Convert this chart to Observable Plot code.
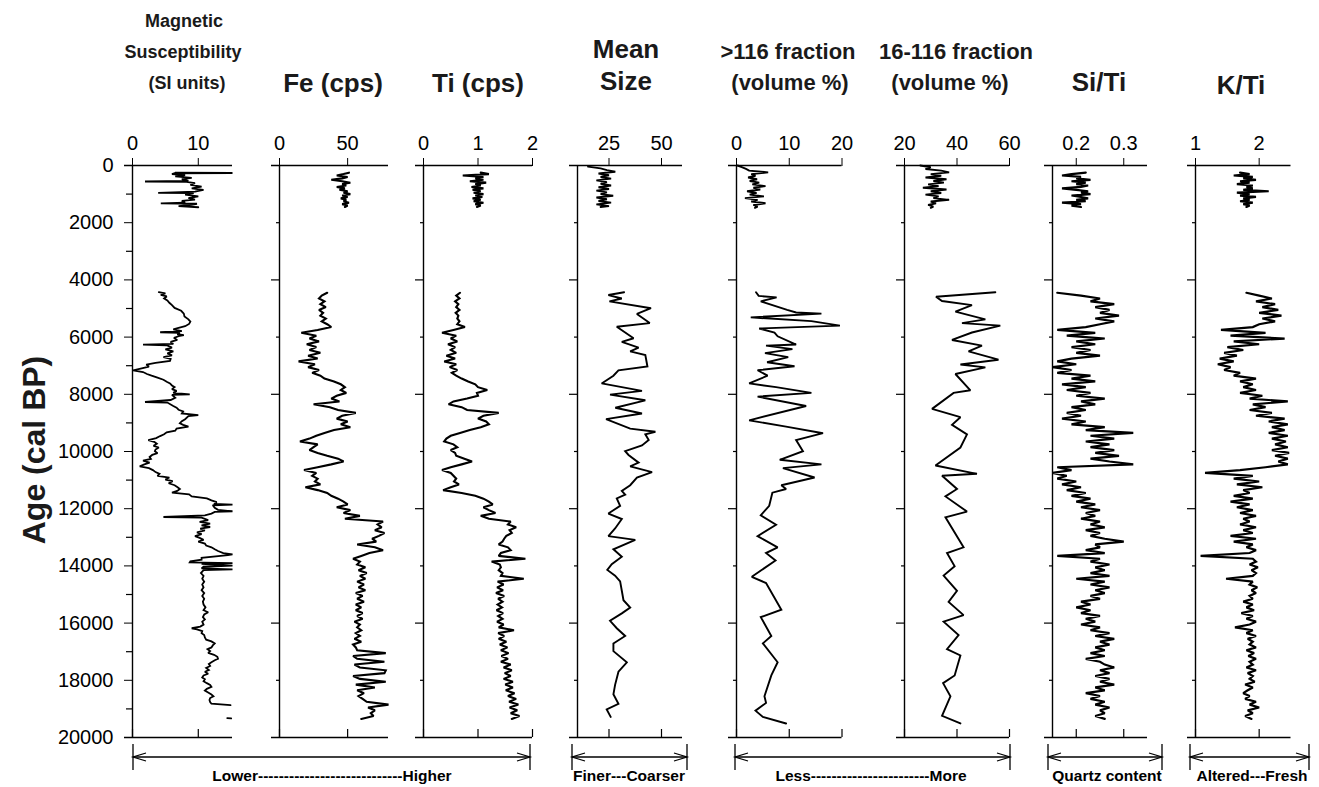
<!DOCTYPE html>
<html><head><meta charset="utf-8">
<script src="https://cdn.jsdelivr.net/npm/d3@7"></script>
<script src="https://cdn.jsdelivr.net/npm/@observablehq/plot@0.6"></script>
<style>
body{margin:0;background:#fff}
#chart{position:relative;width:1319px;height:787px;font-family:"Liberation Sans",Arial,sans-serif;color:#000;overflow:hidden}
#chart svg{position:absolute}
</style></head><body><div id="chart"></div>
<script>
// ---------------- DATA ----------------
const yLabelTicks = [0,2000,4000,6000,8000,10000,12000,14000,16000,18000,20000];
const yMinorTicksFirst = [1000,3000,5000,7000,9000,11000,13000,15000,17000,19000];
const yMajorTicks = [4000,8000,12000,16000];
const yMinorTicks = [2000,6000,10000,14000,18000];

const msTicks = [0,10];
const feTicks = [0,50];
const tiTicks = [0,1,2];
const meanTicks = [25,50];
const coarseTicks = [0,10,20];
const fineTicks = [20,40,60];
const sitiTicks = [0.2,0.3];
const ktiTicks = [1,2];

// Magnetic susceptibility [age, value]
const msTop = [[250,6.5],[262,15.2],[272,6.3],[300,6.0],[340,8.0],[380,6.5],[430,9.0],[480,7.5],[540,8.5],[560,1.9],[572,8.2],[620,9.5],[680,8.8],[740,10.5],[800,9.0],[850,10.8],[910,9.5],[955,3.9],[968,9.3],[1020,8.0],[1080,10.0],[1140,8.5],[1190,9.5],[1240,7.5],[1300,8.0],[1325,4.3],[1338,9.8],[1380,9.0],[1420,7.0],[1460,10.0]];
const msMain = [[4430,4.0],[4470,5.0],[4520,4.3],[4580,5.2],[4650,4.8],[4720,5.3],[4800,5.6],[4880,6.0],[4980,6.4],[5080,7.4],[5180,7.8],[5280,7.9],[5380,8.5],[5460,8.8],[5540,8.6],[5620,8.0],[5680,7.0],[5730,6.2],[5790,7.5],[5830,4.2],[5850,7.2],[5900,6.8],[5930,7.8],[5970,7.0],[6030,6.3],[6100,6.8],[6170,5.8],[6240,6.2],[6265,1.6],[6285,5.2],[6370,6.0],[6430,5.0],[6500,6.2],[6570,5.3],[6640,6.0],[6700,4.7],[6760,5.8],[6830,5.7],[6900,3.5],[6960,2.1],[7030,2.5],[7090,1.4],[7160,0.1],[7220,1.6],[7290,2.2],[7350,2.9],[7420,3.8],[7490,4.7],[7560,5.2],[7620,5.7],[7690,6.0],[7750,6.4],[7820,6.0],[7880,6.7],[7950,6.2],[8000,8.7],[8020,6.0],[8120,6.5],[8200,5.8],[8270,1.9],[8290,5.3],[8410,6.2],[8470,6.7],[8540,7.0],[8600,7.7],[8670,7.5],[8730,10.0],[8760,8.5],[8870,8.0],[8940,7.5],[9010,7.2],[9070,7.7],[9130,8.5],[9200,6.7],[9270,6.5],[9330,5.2],[9400,4.8],[9460,4.2],[9530,3.6],[9600,2.4],[9660,3.3],[9730,3.7],[9800,3.2],[9860,4.0],[9930,3.5],[9990,3.4],[10060,3.8],[10120,3.0],[10190,2.6],[10260,2.8],[10320,1.6],[10390,2.6],[10450,1.8],[10520,1.1],[10580,2.5],[10650,3.1],[10720,3.5],[10780,4.1],[10850,3.8],[10910,5.6],[10980,5.0],[11040,6.1],[11110,5.5],[11180,6.4],[11240,6.8],[11310,7.2],[11380,6.8],[11440,6.0],[11500,8.6],[11570,9.0],[11640,11.3],[11710,12.0],[11770,12.8],[11830,12.4],[11860,15.2],[11880,12.2],[11970,12.5],[12040,13.0],[12090,15.2],[12110,12.5],[12170,12.0],[12230,11.0],[12290,4.7],[12310,10.5],[12400,11.5],[12460,10.2],[12520,11.8],[12580,10.5],[12640,11.8],[12700,10.3],[12760,11.0],[12830,9.8],[12890,10.5],[12960,9.5],[13020,10.2],[13090,10.8],[13150,10.0],[13220,11.0],[13290,11.2],[13350,12.0],[13420,12.5],[13480,13.0],[13550,13.8],[13600,15.2],[13620,14.5],[13720,10.5],[13780,10.5],[13840,8.8],[13880,8.7],[13900,15.2],[13930,10.5],[13990,15.2],[14030,10.8],[14090,10.5],[14120,15.2],[14150,10.8],[14250,10.4],[14350,10.8],[14450,10.6],[14550,10.9],[14650,10.6],[14750,10.8],[14850,10.5],[14950,10.9],[15050,10.6],[15150,10.9],[15250,10.7],[15350,10.8],[15450,11.1],[15550,10.8],[15620,11.5],[15700,10.9],[15790,10.7],[15870,11.0],[15950,10.6],[16050,10.8],[16120,10.3],[16180,9.0],[16220,9.8],[16280,10.6],[16350,10.5],[16420,10.9],[16500,11.0],[16580,11.2],[16640,12.0],[16710,12.5],[16780,12.2],[16850,12.0],[16910,11.4],[16980,11.8],[17040,11.5],[17110,12.4],[17180,12.9],[17250,13.0],[17300,12.5],[17370,12.0],[17430,11.6],[17500,11.8],[17570,11.2],[17640,11.6],[17700,11.0],[17770,11.5],[17830,10.8],[17900,10.6],[17960,11.0],[18030,10.8],[18100,11.3],[18160,11.8],[18230,12.0],[18300,11.3],[18360,11.0],[18430,11.5],[18500,12.0],[18560,12.3],[18620,11.8],[18690,11.7],[18760,11.8],[18820,12.0],[18870,14.9]];
const msTail = [[19320,14.4],[19330,15.0]];

// XRF common sampling ages
const xrfTopAge = [250,300,350,400,450,500,550,600,650,700,750,800,850,900,950,1000,1050,1100,1150,1200,1250,1300,1350,1400,1450];
const xrfAge = [
4450,4550,4650,4750,4850,4950,5050,5150,5250,5350,
5450,5550,5650,5750,5850,5950,6050,6150,6250,6350,
6450,6550,6650,6750,6850,6950,7050,7150,7250,7350,
7450,7550,7650,7750,7850,7950,8050,8150,8250,8350,
8450,8550,8650,8750,8850,8950,9050,9150,9250,9350,
9450,9550,9650,9750,9850,9950,10050,10150,10250,10350,
10450,10550,10650,10750,10850,10950,11050,11150,11250,11350,
11450,11550,11650,11750,11850,11950,12050,12150,12250,12350,
12450,12550,12650,12750,12850,12950,13050,13150,13250,13350,
13450,13550,13650,13750,13850,13950,14050,14150,14250,14350,
14450,14550,14650,14750,14850,14950,15050,15150,15250,15350,
15450,15550,15650,15750,15850,15950,16050,16150,16250,16350,
16450,16550,16650,16750,16850,16950,17050,17150,17250,17350,
17450,17550,17650,17750,17850,17950,18050,18150,18250,18350,
18450,18550,18650,18750,18850,18950,19050,19150,19250,19350];

const feTop = [51,47,42,50,46,38,46,52,46,49,42,48,44,50,47,52,46,50,45,49,47,51,46,50,48];
const feMain = [
35,31,29,33,30,34,29,32,30,34,
31,35,38,28,16,27,22,29,20,27,
22,30,21,28,14,26,21,29,24,30,
33,40,45,48,45,49,42,38,44,25,
37,43,56,46,42,50,45,52,40,33,
27,22,15,28,25,22,28,35,43,47,
38,28,18,27,24,28,26,30,19,28,
35,38,43,47,50,42,52,47,59,48,
76,72,75,70,77,73,68,71,57,70,
76,66,60,54,59,57,63,58,64,59,
63,57,62,58,63,56,61,57,62,56,
60,56,61,57,61,55,59,57,60,56,
59,55,60,54,56,57,78,54,57,77,
55,59,78,77,54,59,78,56,70,57,
62,58,61,64,80,65,70,67,69,60];

const tiTop = [1.05,1.2,0.72,1.1,0.95,1.1,0.85,1.15,0.95,1.05,0.88,1.1,0.9,1.05,0.92,1.1,0.95,1.08,0.9,1.05,0.92,1.1,0.95,1.05,0.98];
const tiMain = [
0.67,0.6,0.66,0.58,0.64,0.6,0.66,0.59,0.64,0.62,
0.66,0.62,0.76,0.55,0.34,0.6,0.5,0.62,0.45,0.58,
0.5,0.6,0.42,0.58,0.38,0.6,0.48,0.62,0.52,0.6,
0.7,0.82,0.95,1.0,1.17,0.98,1.0,0.8,0.55,0.46,
0.7,0.8,1.38,1.1,1.0,1.15,1.2,1.05,0.85,0.67,
0.5,0.42,0.38,0.55,0.62,0.5,0.58,0.6,0.75,0.89,
0.7,0.5,0.34,0.5,0.55,0.6,0.56,0.65,0.5,0.36,
0.7,0.95,1.1,1.2,1.27,1.1,1.2,1.32,1.05,1.2,
1.6,1.55,1.7,1.58,1.62,1.52,1.48,1.45,1.38,1.55,
1.6,1.42,1.38,1.87,1.25,1.4,1.42,1.38,1.45,1.42,
1.84,1.36,1.47,1.35,1.46,1.33,1.48,1.37,1.45,1.36,
1.44,1.34,1.46,1.37,1.45,1.35,1.47,1.38,1.66,1.37,
1.48,1.38,1.52,1.4,1.54,1.42,1.56,1.43,1.55,1.42,
1.6,1.47,1.62,1.49,1.6,1.47,1.64,1.5,1.64,1.51,
1.67,1.55,1.7,1.57,1.74,1.58,1.72,1.6,1.76,1.62];

const sitiTop = [0.22,0.19,0.17,0.21,0.2,0.23,0.19,0.22,0.2,0.225,0.21,0.17,0.2,0.225,0.21,0.23,0.19,0.21,0.225,0.2,0.22,0.17,0.21,0.19,0.21];
const sitiMain = [
0.16,0.21,0.25,0.23,0.28,0.24,0.27,0.25,0.29,0.24,
0.28,0.25,0.22,0.16,0.24,0.18,0.26,0.2,0.24,0.19,
0.23,0.2,0.25,0.19,0.16,0.2,0.15,0.19,0.16,0.23,
0.19,0.24,0.17,0.22,0.18,0.23,0.2,0.26,0.21,0.24,
0.19,0.22,0.18,0.21,0.17,0.22,0.19,0.26,0.22,0.32,
0.23,0.28,0.22,0.27,0.23,0.28,0.24,0.29,0.23,0.27,
0.32,0.16,0.19,0.15,0.18,0.16,0.2,0.17,0.21,0.18,
0.22,0.19,0.23,0.2,0.24,0.21,0.25,0.22,0.24,0.21,
0.25,0.23,0.26,0.22,0.25,0.23,0.26,0.3,0.24,0.25,
0.22,0.26,0.16,0.25,0.23,0.27,0.24,0.26,0.23,0.27,
0.2,0.26,0.23,0.27,0.24,0.26,0.23,0.25,0.21,0.23,
0.2,0.23,0.21,0.25,0.22,0.24,0.21,0.25,0.23,0.27,
0.24,0.28,0.25,0.27,0.24,0.26,0.23,0.26,0.22,0.25,
0.26,0.28,0.25,0.27,0.24,0.27,0.25,0.28,0.24,0.26,
0.22,0.25,0.23,0.26,0.24,0.27,0.25,0.26,0.24,0.26];

const ktiTop = [1.7,1.85,1.6,1.9,1.75,1.95,1.7,1.85,1.65,1.9,1.8,1.9,1.75,2.15,1.65,1.85,1.7,1.95,1.75,1.85,1.7,1.9,1.75,1.85,1.8];
const ktiMain = [
1.8,2.0,2.2,1.95,2.25,2.05,2.3,2.0,2.35,2.05,
2.25,2.0,1.9,1.4,2.1,1.55,2.4,1.6,2.0,1.5,
1.75,1.45,1.65,1.38,1.6,1.35,1.55,1.45,1.7,1.6,
1.95,1.7,1.9,1.75,1.95,1.7,2.05,1.85,2.45,1.9,
2.1,1.85,2.2,1.95,2.4,2.15,2.45,2.2,2.4,2.15,
2.45,2.2,2.42,2.25,2.45,2.2,2.47,2.25,2.45,2.3,
2.45,2.1,1.7,1.15,1.9,1.6,2.0,1.65,2.05,1.75,
1.85,1.6,1.9,1.55,1.85,1.65,1.9,1.7,1.95,1.75,
1.85,1.7,1.95,1.75,1.9,1.55,1.95,1.6,1.9,1.8,
1.95,1.85,1.08,1.9,1.95,1.85,1.98,1.88,1.95,1.9,
1.48,1.9,1.85,1.97,1.88,1.95,1.85,1.9,1.75,1.9,
1.8,1.92,1.72,1.9,1.8,1.95,1.85,1.62,1.9,1.8,
1.95,1.82,1.9,1.85,1.95,1.8,1.92,1.83,1.95,1.85,
1.9,1.8,1.95,1.82,1.9,1.85,1.93,1.78,1.9,1.82,
1.75,1.85,1.78,1.95,1.85,2.0,1.82,1.9,1.78,1.88];

// Grain size [age, value]
const meanTop = [[40,15],[100,21],[160,24],[220,28],[280,20],[340,25],[400,21],[460,26],[520,19],[580,24],[640,21],[700,26],[760,20],[820,25],[880,19],[940,24],[1000,21],[1060,27],[1120,19],[1180,24],[1240,20],[1300,26],[1360,19],[1420,25],[1450,21]];
const meanMain = [[4430,32.2],[4530,24.7],[4650,31.1],[4750,25.2],[4990,45.0],[5190,38.3],[5510,44.4],[5640,28.7],[6040,36.7],[6170,31.1],[6370,39.1],[6500,35.1],[6630,42.3],[7030,43.3],[7160,29.5],[7350,27.1],[7620,21.5],[7880,40.7],[8010,25.5],[8210,42.3],[8470,28.0],[8670,40.7],[8870,23.6],[9200,35.1],[9310,47.1],[9400,42.3],[9600,43.9],[9790,40.7],[9990,32.7],[10120,34.3],[10390,39.1],[10520,35.1],[10720,45.5],[10910,38.3],[11180,35.1],[11380,31.1],[11510,32.7],[11640,28.7],[11900,30.3],[12170,24.7],[12360,31.1],[12690,27.9],[12960,24.7],[13090,37.5],[13420,27.1],[13680,31.1],[13940,26.3],[14140,24.2],[14340,27.9],[14540,30.3],[14870,31.1],[15200,31.9],[15460,35.1],[15660,31.1],[15920,25.5],[16180,28.7],[16450,32.7],[16710,27.1],[16980,27.1],[17370,33.5],[17700,29.5],[18160,27.9],[18490,27.1],[18820,29.5],[19020,23.9],[19280,25.8]];

const coarseTop = [[0,0.2],[60,1.0],[120,1.8],[180,2.4],[240,6.0],[300,2.8],[360,3.6],[420,2.2],[480,3.9],[540,2.5],[600,4.3],[660,3.0],[720,5.5],[780,3.2],[840,4.5],[900,2.0],[960,3.8],[1020,2.5],[1080,5.2],[1140,1.6],[1200,4.0],[1260,2.8],[1320,5.5],[1380,3.2],[1440,4.0],[1480,3.5]];
const coarseMain = [[4430,3.7],[4560,4.2],[4610,7.6],[4750,4.6],[5050,9.6],[5140,11.3],[5180,16.1],[5310,2.7],[5440,14.2],[5600,19.6],[5700,4.3],[5840,7.2],[5970,7.8],[6260,11.3],[6300,5.6],[6420,10.6],[6560,5.4],[6700,9.8],[6880,5.8],[7020,11.0],[7160,4.0],[7350,5.9],[7620,2.4],[7750,7.5],[7950,14.2],[8080,4.0],[8410,13.2],[8910,2.4],[9130,9.4],[9360,16.4],[9600,11.3],[9990,12.6],[10290,8.2],[10450,16.1],[10580,8.8],[10910,14.8],[11180,8.5],[11310,9.4],[11440,6.8],[11900,6.2],[12230,4.6],[12560,7.5],[12960,4.0],[13350,7.8],[13550,5.6],[13810,7.4],[14380,2.9],[14600,5.6],[15530,8.5],[15790,4.6],[16450,6.6],[16710,5.0],[17370,7.8],[17830,6.6],[18560,5.3],[18790,5.6],[19060,3.6],[19280,5.0],[19510,9.4]];

const fineTop = [[0,26],[60,30],[120,28],[180,34],[240,37],[300,30],[360,34],[420,28],[480,36],[540,31],[600,35],[660,29],[720,33],[780,27],[840,36],[900,30],[960,34],[1020,28],[1080,33],[1140,31],[1200,37],[1260,30],[1320,32],[1380,29],[1440,31],[1480,30]];
const fineMain = [[4430,54.6],[4590,32.0],[4740,34.3],[4880,45.7],[5110,39.4],[5380,50.8],[5510,41.9],[5600,56.5],[5840,45.7],[6100,38.1],[6300,49.5],[6500,44.4],[6790,55.8],[6960,41.3],[7060,50.8],[7290,39.4],[7860,45.1],[7950,38.7],[8510,30.5],[8800,41.3],[9070,38.1],[9400,43.8],[9860,41.3],[10490,31.8],[10780,47.6],[10850,34.3],[11310,40.0],[11570,35.6],[12100,43.8],[12300,35.6],[13350,42.5],[13550,36.2],[14010,39.1],[14340,34.9],[14870,40.0],[15260,36.8],[15720,42.5],[15950,34.9],[16420,40.6],[16910,36.2],[17130,41.3],[17830,39.1],[18100,34.7],[18560,37.5],[19240,34.3],[19510,41.3]];

// ---------------- TABLES ----------------
const fromPairs = (pairs, seg) => pairs.map(([age, v]) => ({age, v, seg}));
const fromCols = (ages, vals, seg) => ages.map((age, i) => ({age, v: vals[i], seg}));
const series = {
  ms: [...fromPairs(msTop, "a"), ...fromPairs(msMain, "b"), ...fromPairs(msTail, "c")],
  fe: [...fromCols(xrfTopAge, feTop, "a"), ...fromCols(xrfAge, feMain, "b")],
  ti: [...fromCols(xrfTopAge, tiTop, "a"), ...fromCols(xrfAge, tiMain, "b")],
  mean: [...fromPairs(meanTop, "a"), ...fromPairs(meanMain, "b")],
  coarse: [...fromPairs(coarseTop, "a"), ...fromPairs(coarseMain, "b")],
  fine: [...fromPairs(fineTop, "a"), ...fromPairs(fineMain, "b")],
  siti: [...fromCols(xrfTopAge, sitiTop, "a"), ...fromCols(xrfAge, sitiMain, "b")],
  kti: [...fromCols(xrfTopAge, ktiTop, "a"), ...fromCols(xrfAge, ktiMain, "b")]
};

// ---------------- LAYOUT ----------------
const FONT = "'Liberation Sans', Arial, Helvetica, sans-serif";
const TOP = 120, MT = 45, MB = 10, H = 627; // age 0 at y=165, 20000 at y=737
const panels = [
  {id: "ms", domain: [0, 15.2], ticks: msTicks, axisX: 132, right: 232, first: true, sw: 1.8},
  {id: "fe", domain: [0, 80], ticks: feTicks, axisX: 279, right: 388, sw: 2.1},
  {id: "ti", domain: [0, 2], ticks: tiTicks, axisX: 423, right: 532, sw: 2.1},
  {id: "mean", domain: [10, 60], ticks: meanTicks, axisX: 577, right: 682, sw: 1.9},
  {id: "coarse", domain: [0, 20], ticks: coarseTicks, axisX: 735.5, right: 841, sw: 1.9},
  {id: "fine", domain: [20, 60], ticks: fineTicks, axisX: 904, right: 1009, sw: 1.9},
  {id: "siti", domain: [0.15, 0.35], ticks: sitiTicks, axisX: 1052, right: 1147, sw: 2.2},
  {id: "kti", domain: [1, 2.5], ticks: ktiTicks, axisX: 1194.5, right: 1290, sw: 2.2}
];

const chart = document.getElementById("chart");
const frame = {stroke: "black", strokeWidth: 1.4};

for (const p of panels) {
  const ml = p.first ? p.axisX : 12, mr = 14;
  const w = ml + (p.right - p.axisX) + mr;
  const x0 = p.domain[0];
  const tickMarks = p.first ? [
    Plot.ruleY(yMinorTicksFirst, {y: d => d, x1: () => x0, x2: () => x0, insetLeft: -6, ...frame, strokeWidth: 1.2})
  ] : [
    Plot.ruleY(yMajorTicks, {y: d => d, x1: () => x0, x2: () => x0, insetLeft: -8, ...frame, strokeWidth: 1.2}),
    Plot.ruleY(yMinorTicks, {y: d => d, x1: () => x0, x2: () => x0, insetLeft: -3, ...frame, strokeWidth: 1.2})
  ];
  const svg = Plot.plot({
    width: w, height: H,
    marginLeft: ml, marginRight: mr, marginTop: MT, marginBottom: MB,
    style: {fontSize: "20px", fontFamily: FONT, color: "black", background: "none", overflow: "visible"},
    x: {domain: p.domain, axis: "top", ticks: p.ticks, tickSize: 8, tickPadding: 8, tickFormat: d => String(d), label: null},
    y: p.first
      ? {domain: [0, 20000], reverse: true, ticks: yLabelTicks, tickSize: 8, tickPadding: 11, tickFormat: d => String(d), label: null}
      : {domain: [0, 20000], reverse: true, axis: null},
    marks: [
      Plot.ruleY([0, 20000], {y: d => d, insetLeft: -8, ...frame}),
      Plot.ruleX([x0], {x: d => d, y1: () => 0, y2: () => 20000, ...frame}),
      ...tickMarks,
      Plot.ruleX(p.ticks, {x: d => d, y1: () => 20000, y2: () => 20000, insetTop: -8, ...frame, strokeWidth: 1.2}),
      Plot.line(series[p.id], {x: "v", y: "age", z: "seg", stroke: "black", strokeWidth: p.sw, strokeLinejoin: "miter", strokeMiterlimit: 2})
    ]
  });
  svg.style.left = (p.axisX - ml) + "px";
  svg.style.top = TOP + "px";
  chart.append(svg);
}

// ---------------- TITLES & ANNOTATIONS ----------------
const titles = [
  {lines: ["Magnetic", "Susceptibility", "(SI units)"], cx: [184, 183, 187], base: [27, 58, 89], size: 18},
  {lines: ["Fe (cps)"], cx: [333], base: [92], size: 26},
  {lines: ["Ti (cps)"], cx: [478], base: [92], size: 26},
  {lines: ["Mean", "Size"], cx: [626, 626], base: [58, 90], size: 26},
  {lines: [">116 fraction", "(volume %)"], cx: [788, 790], base: [59, 90], size: 22},
  {lines: ["16-116 fraction", "(volume %)"], cx: [956, 950], base: [59, 90], size: 22},
  {lines: ["Si/Ti"], cx: [1099], base: [91], size: 26},
  {lines: ["K/Ti"], cx: [1241], base: [94], size: 26}
];
const arrows = [
  {x1: 133, x2: 530, label: "Lower----------------------------Higher", cx: 332},
  {x1: 572, x2: 687, label: "Finer---Coarser", cx: 629},
  {x1: 735, x2: 1010, label: "Less-----------------------More", cx: 871},
  {x1: 1048, x2: 1162, label: "Quartz content", cx: 1107},
  {x1: 1190, x2: 1309, label: "Altered---Fresh", cx: 1252}
];

const ov = d3.select(chart).append("svg")
  .attr("width", 1319).attr("height", 787)
  .style("left", "0px").style("top", "0px").style("pointer-events", "none")
  .attr("font-family", FONT).attr("font-weight", "bold");

for (const t of titles) {
  t.lines.forEach((s, i) => {
    ov.append("text").attr("x", t.cx[i]).attr("y", t.base[i]).attr("text-anchor", "middle")
      .attr("font-size", t.size).attr("fill", "#1a1a1a").text(s);
  });
}
ov.append("text").attr("transform", "translate(45,450) rotate(-90)").attr("text-anchor", "middle")
  .attr("font-size", 32).attr("fill", "#1a1a1a").text("Age (cal BP)");

const AY = 757;
for (const a of arrows) {
  const g = ov.append("g").attr("stroke", "black").attr("stroke-width", 1.3).attr("fill", "none");
  g.append("line").attr("x1", a.x1).attr("x2", a.x2).attr("y1", AY).attr("y2", AY);
  g.append("line").attr("x1", a.x1).attr("x2", a.x1).attr("y1", AY - 13).attr("y2", AY + 13);
  g.append("line").attr("x1", a.x2).attr("x2", a.x2).attr("y1", AY - 13).attr("y2", AY + 13);
  g.append("polyline").attr("points", `${a.x1 + 13},${AY - 4} ${a.x1},${AY} ${a.x1 + 13},${AY + 4}`);
  g.append("polyline").attr("points", `${a.x2 - 13},${AY - 4} ${a.x2},${AY} ${a.x2 - 13},${AY + 4}`);
  ov.append("text").attr("x", a.cx).attr("y", 781).attr("text-anchor", "middle")
    .attr("font-size", 15.5).attr("fill", "black").text(a.label);
}
</script></body></html>
